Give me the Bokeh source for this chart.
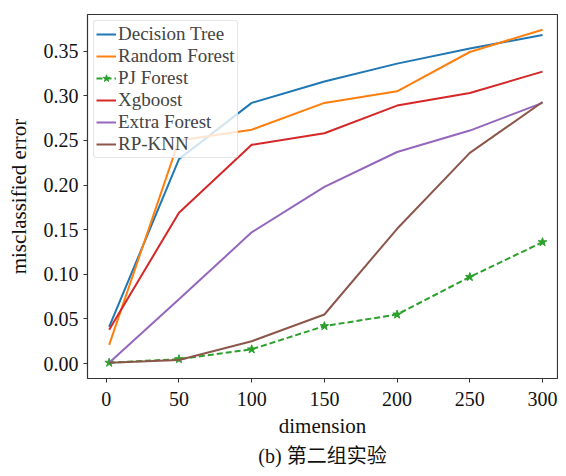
from bokeh.plotting import figure
from bokeh.models import FixedTicker, NumeralTickFormatter, Range1d, Title
from bokeh.embed import file_html
from bokeh.resources import INLINE

dimension = [2, 50, 100, 150, 200, 250, 300]
decision_tree = [0.041, 0.229, 0.292, 0.316, 0.336, 0.353, 0.368]
random_forest = [0.021, 0.250, 0.262, 0.292, 0.305, 0.349, 0.374]
pj_forest = [0.001, 0.005, 0.016, 0.042, 0.055, 0.097, 0.136]
xgboost = [0.038, 0.169, 0.245, 0.258, 0.289, 0.303, 0.327]
extra_forest = [0.001, 0.072, 0.147, 0.198, 0.237, 0.261, 0.292]
rp_knn = [0.001, 0.004, 0.025, 0.055, 0.151, 0.236, 0.293]

x_ticks = [0, 50, 100, 150, 200, 250, 300]
y_ticks = [0.00, 0.05, 0.10, 0.15, 0.20, 0.25, 0.30, 0.35]

FONT = "Liberation Serif"
CAP_FONT = "Liberation Serif, Noto Sans CJK SC"

p = figure(width=558, height=468, output_backend="svg", toolbar_location=None,
           x_range=Range1d(-12.9, 310.3), y_range=Range1d(-0.0167, 0.391),
           min_border_left=87, min_border_right=1, min_border_top=14, min_border_bottom=88)

p.xgrid.visible = False
p.ygrid.visible = False
p.outline_line_color = "#333333"
p.outline_line_width = 1.2

for ax in (p.xaxis[0], p.yaxis[0]):
    ax.axis_line_color = None
    ax.major_tick_in = 0
    ax.major_tick_out = 4
    ax.minor_tick_out = 0
    ax.minor_tick_in = 0
    ax.major_tick_line_color = "#333333"
    ax.major_label_text_font = FONT
    ax.major_label_text_font_size = "20px"
    ax.major_label_text_color = "#111111"
    ax.axis_label_text_font = FONT
    ax.axis_label_text_font_size = "21px"
    ax.axis_label_text_font_style = "normal"
    ax.axis_label_text_color = "#111111"

p.xaxis.ticker = FixedTicker(ticks=x_ticks)
p.yaxis.ticker = FixedTicker(ticks=y_ticks)
p.yaxis.formatter = NumeralTickFormatter(format="0.00")
p.xaxis.major_label_standoff = 9
p.yaxis.major_label_standoff = 5
p.xaxis.axis_label = "dimension"
p.yaxis.axis_label = "misclassified error"
p.xaxis.axis_label_standoff = 5
p.yaxis.axis_label_standoff = 10

lw = 2
p.line(dimension, decision_tree, color="#1f77b4", line_width=lw, legend_label="Decision Tree")
p.line(dimension, random_forest, color="#ff7f0e", line_width=lw, legend_label="Random Forest")
p.line(dimension, pj_forest, color="#2ca02c", line_width=lw, line_dash="6 3", legend_label="PJ Forest")
p.scatter(dimension, pj_forest, marker="star", size=9, color="#2ca02c", legend_label="PJ Forest")
p.line(dimension, xgboost, color="#d62728", line_width=lw, legend_label="Xgboost")
p.line(dimension, extra_forest, color="#9467bd", line_width=lw, legend_label="Extra Forest")
p.line(dimension, rp_knn, color="#8c564b", line_width=lw, legend_label="RP-KNN")

lg = p.legend[0]
lg.location = "top_left"
lg.margin = 6
lg.padding = 2
lg.spacing = 0
lg.label_text_font = FONT
lg.label_text_font_size = "19px"
lg.label_height = 18
lg.glyph_height = 18
lg.glyph_width = 20
lg.label_standoff = 2
lg.border_line_color = "#cccccc"
lg.border_line_width = 1
lg.background_fill_alpha = 0.8
lg.border_radius = 3

caption = Title(text="(b) 第二组实验", align="center", text_font=CAP_FONT,
                text_font_size="20px", text_font_style="normal", text_color="#111111",
                standoff=4)
p.add_layout(caption, "below")

open("out.html", "w").write(file_html(p, INLINE))
